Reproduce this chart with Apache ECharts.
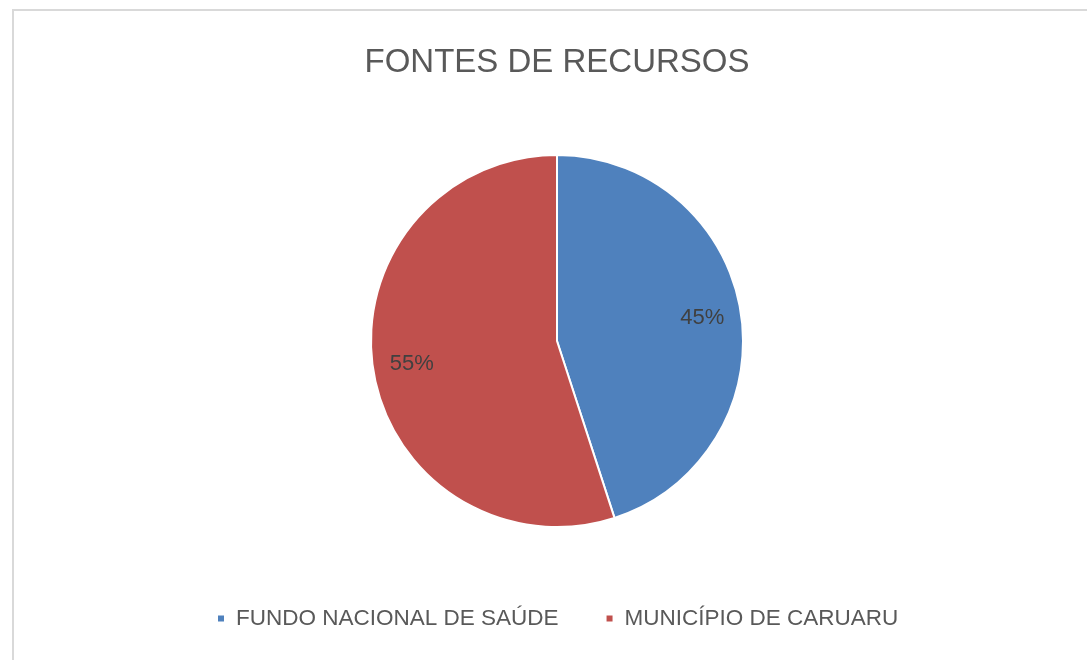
<!DOCTYPE html>
<html>
<head>
<meta charset="UTF-8">
<title>FONTES DE RECURSOS</title>
<style>
    * { margin: 0; padding: 0; box-sizing: border-box; }
    html, body { width: 100%; height: 100%; background: #fff; overflow: hidden; }
    .frame {
        position: absolute;
        left: 12px; top: 9px;
        width: 1200px; height: 800px;
        border: 2px solid #d9d9d9;
    }
    #chart { position: absolute; left: 0; top: 0; width: 1087px; height: 660px; }
</style>
</head>
<body>
<div class="frame"></div>
<div id="chart"></div>
<script src="https://cdn.jsdelivr.net/npm/echarts@6/dist/echarts.min.js"></script>
<script>
    var categories = ['FUNDO NACIONAL DE SAÚDE', 'MUNICÍPIO DE CARUARU'];
    var values = [45, 55];
    var colors = ['#4F81BD', '#C0504D'];

    var pieData = [];
    for (var i = 0; i < categories.length; i++) {
        pieData.push({ name: categories[i], value: values[i] });
    }

    var myChart = echarts.init(document.getElementById('chart'));
    var option = {
        color: colors,
        title: {
            text: 'FONTES DE RECURSOS',
            left: 552,
            textAlign: 'center',
            top: 41,
            textStyle: {
                fontFamily: 'Liberation Sans',
                fontWeight: 'normal',
                fontSize: 33,
                color: '#595959'
            }
        },
        legend: {
            data: categories,
            bottom: 25,
            left: 211,
            icon: 'rect',
            itemWidth: 8,
            itemHeight: 8,
            itemGap: 46,
            textStyle: {
                fontFamily: 'Liberation Sans',
                fontSize: 22.5,
                color: '#595959',
                padding: [0, 0, 0, 6]
            }
        },
        series: [
            {
                name: 'pie',
                type: 'pie',
                center: [557, 341],
                radius: 186,
                startAngle: 90,
                clockwise: true,
                label: { show: false },
                labelLine: { show: false },
                itemStyle: { borderColor: '#fff', borderWidth: 2 },
                emphasis: { disabled: true },
                data: pieData
            },
            {
                // label ring only
                name: 'labels',
                type: 'pie',
                center: [557, 341],
                radius: [102, 186],
                startAngle: 90,
                clockwise: true,
                silent: true,
                itemStyle: { color: 'transparent' },
                label: {
                    show: true,
                    position: 'inside',
                    formatter: '{d}%',
                    fontFamily: 'Liberation Sans',
                    fontSize: 22,
                    color: '#404040'
                },
                labelLine: { show: false },
                emphasis: { disabled: true },
                data: pieData
            }
        ]
    };
    myChart.setOption(option);
</script>
</body>
</html>
